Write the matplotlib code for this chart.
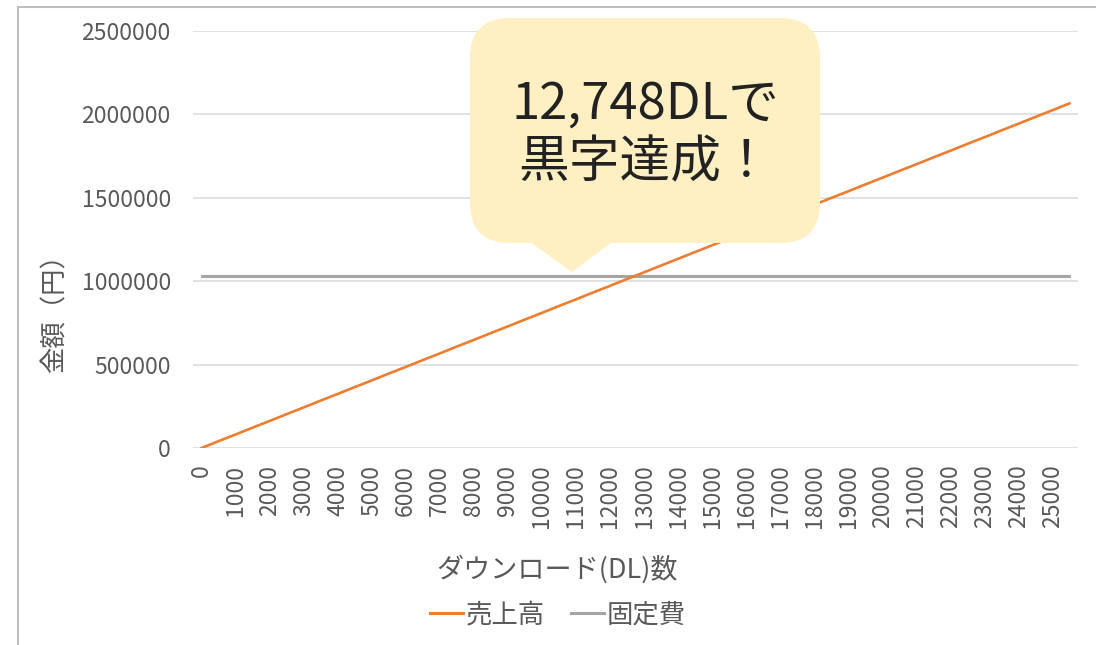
import matplotlib
matplotlib.use('Agg')
import matplotlib.pyplot as plt
from matplotlib.patches import FancyBboxPatch, Polygon
from matplotlib.lines import Line2D

plt.rcParams['font.family'] = ['Noto Sans CJK JP', 'DejaVu Sans']

# データ
downloads = [0, 500, 1000, 1500, 2000, 2500, 3000, 3500, 4000, 4500,
             5000, 5500, 6000, 6500, 7000, 7500, 8000, 8500, 9000, 9500,
             10000, 10500, 11000, 11500, 12000, 12500, 13000, 13500, 14000, 14500,
             15000, 15500, 16000, 16500, 17000, 17500, 18000, 18500, 19000, 19500,
             20000, 20500, 21000, 21500, 22000, 22500, 23000, 23500, 24000, 24500,
             25000, 25500]
# 売上高（千円）
sales_k = [0, 41, 81, 122, 162, 203, 243, 284, 324, 365,
           405, 446, 486, 527, 567, 608, 648, 689, 729, 770,
           810, 851, 891, 932, 972, 1013, 1053, 1094, 1134, 1175,
           1215, 1256, 1296, 1337, 1377, 1418, 1458, 1499, 1539, 1580,
           1620, 1661, 1701, 1742, 1782, 1823, 1863, 1904, 1944, 1985,
           2025, 2066]
fixed_cost = 1032000
x_ticks = [0, 1000, 2000, 3000, 4000, 5000, 6000, 7000, 8000, 9000, 10000,
           11000, 12000, 13000, 14000, 15000, 16000, 17000, 18000, 19000, 20000,
           21000, 22000, 23000, 24000, 25000]
y_ticks = [0, 500000, 1000000, 1500000, 2000000, 2500000]
callout_text = '12,748DLで\n黒字達成！'

sales = [v * 1000 for v in sales_k]
fixed = [fixed_cost for _ in downloads]

W, H = 1096, 645
fig = plt.figure(figsize=(W / 100, H / 100), dpi=100)
ax = fig.add_axes([193 / W, 1 - 448 / H, 885 / W, 417 / H])

ax.plot(downloads, sales, color='#ED7D31', lw=1.9, label='売上高', zorder=3)
ax.plot(downloads, fixed, color='#A5A5A5', lw=2.2, label='固定費', zorder=2)

ax.set_xlim(-250, 25750)
ax.set_ylim(0, 2500000)
ax.set_xticks(x_ticks)
ax.set_xticklabels([str(t) for t in x_ticks], rotation=90, va='top', ha='center')
ax.set_yticks(y_ticks)
ax.set_yticklabels([str(t) for t in y_ticks])
ax.tick_params(axis='both', length=0, colors='#595959', labelsize=16.5)
ax.tick_params(axis='y', pad=16)
ax.tick_params(axis='x', pad=12)
ax.yaxis.grid(True, color='#D9D9D9', lw=1.1)
ax.set_axisbelow(True)
for s in ax.spines.values():
    s.set_visible(False)

fig.text(55 / W, 1 - 307 / H, '金額（円）', rotation=90, ha='center', va='center',
         fontsize=19, color='#595959')
fig.text(557 / W, 1 - 569 / H, 'ダウンロード(DL)数', ha='center', va='center',
         fontsize=19.5, color='#595959')

handles = [Line2D([], [], color='#ED7D31', lw=2.2), Line2D([], [], color='#A5A5A5', lw=2.2)]
fig.legend(handles, ['売上高', '固定費'], loc='center', bbox_to_anchor=(558 / W, 1 - 615 / H),
           ncol=2, frameon=False, fontsize=19, labelcolor='#595959',
           handlelength=1.25, handletextpad=0.1, columnspacing=1.0)

# 吹き出しと枠線（ピクセル座標のオーバーレイ）
ov = fig.add_axes([0, 0, 1, 1], zorder=5)
ov.set_xlim(0, W)
ov.set_ylim(H, 0)
ov.axis('off')
ov.patch.set_visible(False)
ov.add_patch(FancyBboxPatch((470, 18), 350, 225, boxstyle='round,pad=0,rounding_size=40',
                            fc='#FFF0C4', ec='none'))
ov.add_patch(Polygon([(527, 240), (615, 240), (572, 272)], closed=True, fc='#FFF0C4', ec='none'))
ov.text(645, 134, callout_text, ha='center', va='center', fontsize=36.5, color='#222222',
        linespacing=1.15)
ov.plot([18, W], [7, 7], color='#BFBFBF', lw=1.5)
ov.plot([18, 18], [7, H], color='#BFBFBF', lw=1.5)

fig.savefig('out.png', dpi=100)
